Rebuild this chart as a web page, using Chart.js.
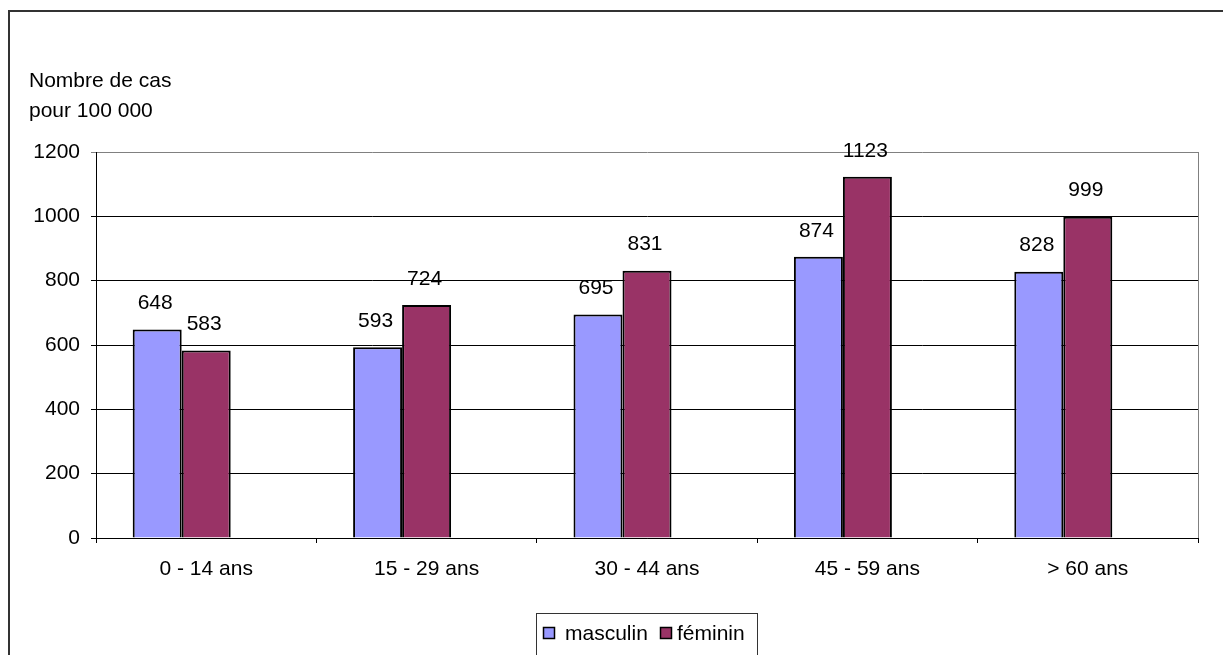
<!DOCTYPE html>
<html lang="fr">
<head>
<meta charset="utf-8">
<title>Nombre de cas pour 100 000 par âge et sexe</title>
<script src="https://cdn.jsdelivr.net/npm/chart.js@4/dist/chart.umd.min.js"></script>
<style>
  html, body { margin: 0; padding: 0; background: #ffffff; }
  #wrap { width: 1223px; height: 655px; }
</style>
</head>
<body>
<div id="wrap"><canvas id="chart" width="1223" height="655"></canvas></div>
<script>
// Age groups and incidence per 100 000, by sex
const categories = ['0 - 14 ans', '15 - 29 ans', '30 - 44 ans', '45 - 59 ans', '> 60 ans'];
const masculin = [648, 593, 695, 874, 828];
const feminin = [583, 724, 831, 1123, 999];
const seriesNames = ['masculin', 'féminin'];
const seriesColors = ['#9999FF', '#993366'];
const yTitle = ['Nombre de cas', 'pour 100 000'];
const yTicks = [0, 200, 400, 600, 800, 1000, 1200];

const FONT = '"Liberation Sans", Arial, Helvetica, sans-serif';
const FS = 21;

// Frame, axis title, value labels and legend box
const decorations = {
  id: 'decorations',
  beforeDraw(chart) {
    const ctx = chart.ctx;
    ctx.save();
    ctx.fillStyle = '#ffffff';
    ctx.fillRect(0, 0, chart.width, chart.height);
    ctx.strokeStyle = '#333333';
    ctx.lineWidth = 2;
    ctx.strokeRect(9, 11, chart.width + 20, chart.height + 20);
    ctx.fillStyle = '#000000';
    ctx.font = FS + 'px ' + FONT;
    ctx.textAlign = 'left';
    ctx.textBaseline = 'alphabetic';
    ctx.fillText(yTitle[0], 29, 87);
    ctx.fillText(yTitle[1], 29, 117);
    ctx.restore();
  },
  afterDraw(chart) {
    const ctx = chart.ctx;
    const a = chart.chartArea;
    ctx.save();
    // right edge of the plot area
    ctx.strokeStyle = '#808080';
    ctx.lineWidth = 1;
    ctx.beginPath();
    ctx.moveTo(Math.round(a.right) + 0.5, a.top);
    ctx.lineTo(Math.round(a.right) + 0.5, a.bottom);
    ctx.stroke();

    // value labels above each bar
    ctx.fillStyle = '#000000';
    ctx.font = FS + 'px ' + FONT;
    ctx.textAlign = 'center';
    ctx.textBaseline = 'middle';
    [0, 1].forEach(di => {
      const meta = chart.getDatasetMeta(di);
      meta.data.forEach((bar, i) => {
        const v = chart.data.datasets[di].data[i];
        ctx.fillText(String(v), bar.x - 2, bar.y - 26);
      });
    });

    // legend box
    const bx = 536, by = 613, bw = 221, bh = 52;
    ctx.strokeStyle = '#333333';
    ctx.lineWidth = 1;
    ctx.strokeRect(bx + 0.5, by + 0.5, bw, bh);
    const cy = 633;
    const items = [{ x: 543, tx: 565 }, { x: 660, tx: 677 }];
    items.forEach((it, k) => {
      ctx.fillStyle = seriesColors[k];
      ctx.fillRect(it.x, cy - 6, 12, 12);
      ctx.strokeStyle = '#000000';
      ctx.lineWidth = 1.5;
      ctx.strokeRect(it.x + 0.5, cy - 5.5, 11, 11);
      ctx.fillStyle = '#000000';
      ctx.textAlign = 'left';
      ctx.textBaseline = 'middle';
      ctx.fillText(seriesNames[k], it.tx, cy + 1);
    });
    ctx.restore();
  }
};

new Chart(document.getElementById('chart'), {
  type: 'bar',
  data: {
    labels: categories,
    datasets: [
      { label: seriesNames[0], data: masculin, backgroundColor: seriesColors[0], borderColor: '#000000', borderWidth: 2 },
      { label: seriesNames[1], data: feminin, backgroundColor: seriesColors[1], borderColor: '#000000', borderWidth: 2 },
      // empty third slot in each group keeps the bars left of the category centre
      { label: '', data: categories.map(() => null), backgroundColor: 'rgba(0,0,0,0)', borderWidth: 0 }
    ]
  },
  options: {
    responsive: false,
    animation: false,
    devicePixelRatio: 1,
    datasets: { bar: { categoryPercentage: 0.667, barPercentage: 1.0 } },
    layout: { padding: { left: 0, top: 152, right: 25, bottom: 0 } },
    plugins: { legend: { display: false }, tooltip: { enabled: false } },
    scales: {
      x: {
        afterFit(scale) { scale.height = 117; },
        grid: { offset: true, drawOnChartArea: false, drawTicks: true, tickLength: 5, color: '#000000', lineWidth: 1 },
        border: { display: true, color: '#000000', width: 1 },
        ticks: { color: '#000000', font: { family: FONT, size: FS }, padding: 14, maxRotation: 0 }
      },
      y: {
        min: 0,
        max: 1200,
        afterFit(scale) { scale.width = 96; },
        afterBuildTicks(scale) { scale.ticks = yTicks.map(v => ({ value: v })); },
        grid: {
          color: ctx => (ctx.tick && ctx.tick.value === 1200 ? '#808080' : '#000000'),
          lineWidth: 1,
          tickLength: 5,
          drawTicks: true
        },
        border: { display: true, color: '#000000', width: 1 },
        ticks: { color: '#000000', font: { family: FONT, size: FS }, padding: 11, callback: v => String(v) }
      }
    }
  },
  plugins: [decorations]
});
</script>
</body>
</html>
